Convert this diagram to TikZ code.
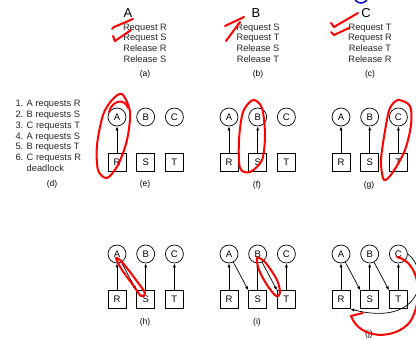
\documentclass[tikz,border=0pt]{standalone}
\usepackage{fontspec}
\setmainfont{Liberation Sans}
\usetikzlibrary{arrows.meta,positioning}

\begin{document}
\begin{tikzpicture}[x=1pt, y=-1pt,
            proc/.style={circle, draw, line width=0.7pt, minimum size=18pt, inner sep=0pt,
            font=\fontsize{9.5}{10}\selectfont},
            res/.style={rectangle, draw, line width=0.7pt, minimum size=18pt, inner sep=0pt,
            font=\fontsize{9.5}{10}\selectfont},
            caption/.style={font=\fontsize{8.5}{9}\selectfont},
            steps/.style={align=center, text=black!85, font=\fontsize{9.3}{10.7}\selectfont},
            hold/.style={-{Latex[length=4pt,width=3pt]}, line width=0.7pt},
            scribble/.style={red, line width=2pt, line cap=round, line join=round}]
            \useasboundingbox (0,0) rectangle (416,340);

            % the three processes and what each one does
            \node (titleA) at (128,13) {\fontsize{13}{14}\selectfont A};
            \node (titleB) at (256,13) {\fontsize{13}{14}\selectfont B};
            \node (titleC) at (366,13) {\fontsize{13}{14}\selectfont C};
            \node[steps] (stepsA) at (145,43) {Request R\\Request S\\Release R\\Release S};
            \node[steps] (stepsB) at (258,43) {Request S\\Request T\\Release S\\Release T};
            \node[steps] (stepsC) at (370,43) {Request T\\Request R\\Release T\\Release R};
            \node[caption] (capA) at (145,74) {(a)};
            \node[caption] (capB) at (258,74) {(b)};
            \node[caption] (capC) at (370,74) {(c)};

            % order of the requests
            \node[steps, align=left, anchor=north west] (order) at (12,97)
            {1. A requests R\\2. B requests S\\3. C requests T\\4. A requests S\\
             5. B requests T\\6. C requests R\\\phantom{6. }deadlock};
            \node[caption] (capD) at (52,184) {(d)};

            % resource graphs
            \foreach \p/\x/\y/\cy in {e/117/117/184, f/229/117/185, g/341/117/185,
                                      h/117/254/322, i/229/254/322, j/341/254/334} {
                \node[proc] (\p-A) at (\x,\y) {A};
                \node[proc, right=10pt of \p-A] (\p-B) {B};
                \node[proc, right=10pt of \p-B] (\p-C) {C};
                \node[res, below=27pt of \p-A] (\p-R) {R};
                \node[res, below=27pt of \p-B] (\p-S) {S};
                \node[res, below=27pt of \p-C] (\p-T) {T};
                \node[caption] (\p-cap) at (\x+28,\cy) {(\p)};
            }
            \foreach \p in {e,f,g,h,i,j} \draw[hold] (\p-R) -- (\p-A);
            \foreach \p in {f,g,h,i,j} \draw[hold] (\p-S) -- (\p-B);
            \foreach \p in {g,h,i,j} \draw[hold] (\p-T) -- (\p-C);
            \foreach \p in {h,i,j} \draw[hold] (\p-A) -- (\p-S.north west);
            \foreach \p in {i,j} \draw[hold] (\p-B) -- (\p-T.north west);
            \draw[hold] (j-C.east) .. controls (430,270) and (425,328) .. (j-R.south east);

            % hand marks
            \draw[blue!80!black, line width=1.5pt] (361,-4) circle (7);
            \draw[scribble] (112,29) -- (114,27) -- (133,19);
            \draw[scribble] (113,36) -- (115,41) -- (131,30);
            \draw[scribble] (225,26) -- (244,17);
            \draw[scribble] (240,22) -- (226,41);
            \draw[scribble] (331,23) -- (334,27) -- (358,13);
            \draw[scribble] (331,32) -- (334,35) -- (349,28);
            \draw[scribble] plot[smooth cycle] coordinates {(122,94) (130,112) (127,140) (118,165)
                (107,178) (98,170) (97,145) (103,115) (112,100)};
            \draw[scribble] (109,112) .. controls (112,100) and (125,98) .. (128,108);
            \draw[scribble] plot[smooth cycle] coordinates {(253,100) (262,108) (265,135) (262,160)
                (250,172) (240,168) (239,140) (243,112)};
            \draw[scribble] plot[smooth cycle] coordinates {(398,100) (410,106) (411,125) (405,150)
                (393,172) (384,180) (381,160) (386,125) (390,108)};
            \draw[scribble] plot[smooth cycle] coordinates {(116,258) (122,262) (136,280) (145,293)
                (141,296) (133,285) (122,270)};
            \draw[scribble] plot[smooth cycle] coordinates {(257,258) (265,262) (277,280) (280,293)
                (276,296) (267,285) (259,270)};
            \draw[scribble] (397,257) .. controls (420,262) and (424,300) .. (410,322)
                .. controls (395,340) and (360,340) .. (351,316);
            \draw[scribble] (351,316) -- (363,313);
        \end{tikzpicture}
\end{document}
